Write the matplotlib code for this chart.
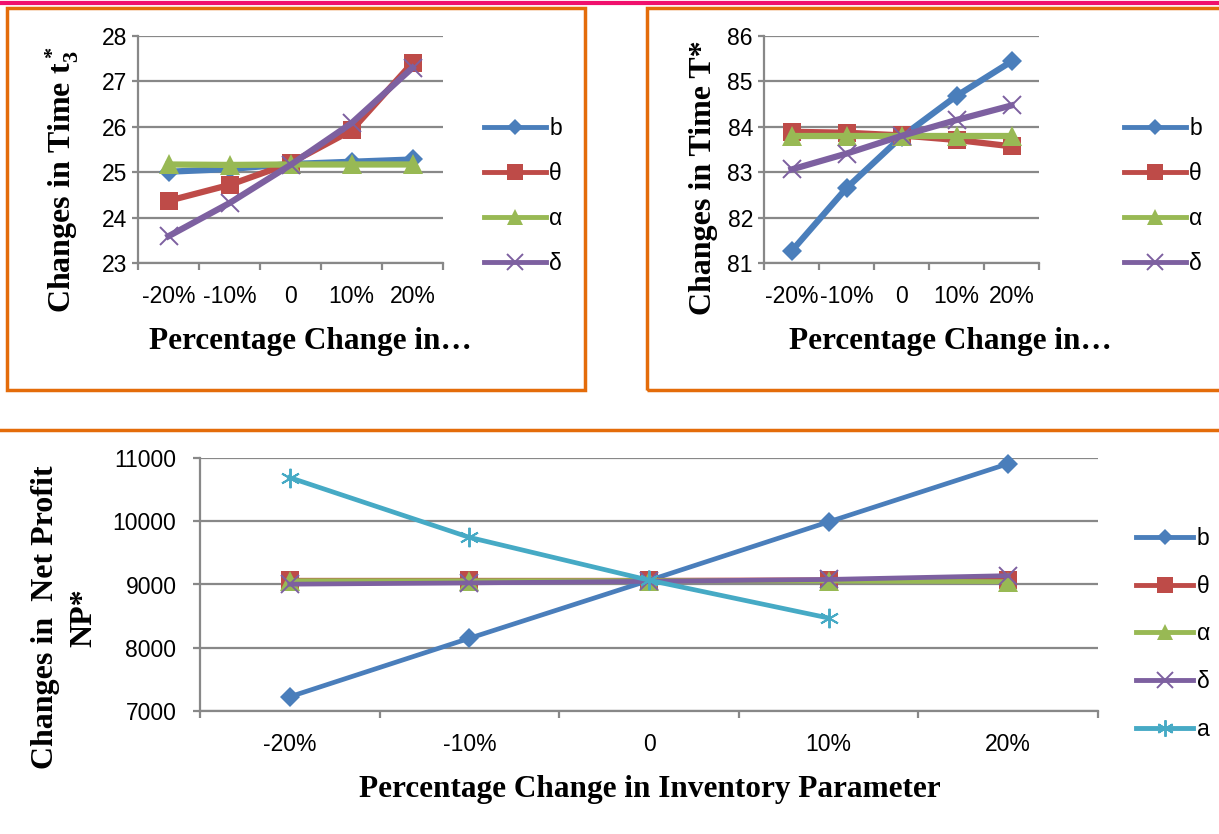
import numpy as np
import matplotlib
matplotlib.use("Agg")
import matplotlib.pyplot as plt
from matplotlib.patches import Rectangle
from matplotlib.lines import Line2D

plt.rcParams['mathtext.default'] = 'regular'

# ---- data ----
pct_labels = ['-20%', '-10%', '0', '10%', '20%']

t3_b = [25.01, 25.07, 25.18, 25.23, 25.28]
t3_theta = [24.37, 24.72, 25.2, 25.92, 27.41]
t3_alpha = [25.17, 25.16, 25.17, 25.17, 25.17]
t3_delta = [23.59, 24.32, 25.16, 26.08, 27.3]

T_b = [81.26, 82.65, 83.78, 84.68, 85.44]
T_theta = [83.89, 83.87, 83.81, 83.71, 83.57]
T_alpha = [83.8, 83.8, 83.8, 83.8, 83.8]
T_delta = [83.06, 83.41, 83.8, 84.15, 84.47]

np_b = [7225, 8150, 9065, 9990, 10910]
np_theta = [9068, 9068, 9068, 9075, 9070]
np_alpha = [9060, 9060, 9062, 9055, 9045]
np_delta = [9005, 9025, 9050, 9080, 9140]
np_a = [10690, 9745, 9068, 8470, np.nan]

series_names = ['b', 'θ', 'α', 'δ', 'a']
colors = ['#4A7EBB', '#BE4B48', '#98B954', '#7D60A0', '#46AAC5']

W, H = 1219, 834
fig = plt.figure(figsize=(W / 100, H / 100), dpi=100)


def box(x0, y0, x1, y1):
    return [x0 / W, 1 - y1 / H, (x1 - x0) / W, (y1 - y0) / H]


def fx(x):
    return x / W


def fy(y):
    return 1 - y / H


grid_c = '#888888'
serif = 'Liberation Serif'
sans = 'Liberation Sans'


def style_axes(ax, ylim, yticks, tick_size, xpad, ypad, ylen):
    ax.set_xlim(-0.5, 4.5)
    ax.set_ylim(*ylim)
    ax.set_yticks(yticks)
    ax.set_xticks(range(5))
    ax.set_xticklabels(pct_labels)
    ax.set_xticks(np.arange(-0.5, 5, 1), minor=True)
    ax.grid(axis='y', color=grid_c, lw=1.6, zorder=0)
    ax.set_axisbelow(True)
    for s in ['top', 'right']:
        ax.spines[s].set_visible(False)
    for s in ['left', 'bottom']:
        ax.spines[s].set_color(grid_c)
        ax.spines[s].set_linewidth(1.6)
    ax.tick_params(axis='x', which='major', length=0, pad=xpad)
    ax.tick_params(axis='x', which='minor', length=5, width=1.6, color=grid_c, direction='out')
    ax.tick_params(axis='y', length=ylen, width=1.6, color=grid_c, pad=ypad)
    for lab in ax.get_xticklabels() + ax.get_yticklabels():
        lab.set_family(sans)
        lab.set_fontsize(tick_size)


markers = ['D', 's', '^', 'x', (6, 2, 0)]
msizes = [10, 13.5, 14, 13, 14]


def draw(ax, data, lw, scale=1.0):
    handles = []
    for i, ys in enumerate(data):
        mk = markers[i]
        thin = mk == 'x' or isinstance(mk, tuple)
        h, = ax.plot(range(5), ys, color=colors[i], lw=lw, marker=mk,
                     ms=msizes[i] * scale, mew=1.4 if thin else 0,
                     mec=colors[i], mfc=colors[i], label=series_names[i],
                     zorder=3 + i, clip_on=False)
        handles.append(h)
    return handles


def legend(ax, handles, x, y, spacing, hlen):
    leg = ax.legend(handles=handles, loc='center left', bbox_to_anchor=(fx(x), fy(y)),
                    bbox_transform=fig.transFigure, frameon=False,
                    handlelength=hlen, handletextpad=0.15, labelspacing=spacing,
                    borderpad=0, borderaxespad=0, markerscale=0.85,
                    prop={'family': sans, 'size': 16.5})
    for ln in leg.get_lines():
        ln.set_linewidth(3.5)
    return leg


# top-left
ax1 = fig.add_axes(box(138, 36, 443, 263))
h1 = draw(ax1, [t3_b, t3_theta, t3_alpha, t3_delta], 4.5)
style_axes(ax1, (23, 28), range(23, 29), 16.5, 16, 4, 4)
legend(ax1, h1, 484, 196, 0.95, 2.7)

# top-right
ax2 = fig.add_axes(box(764, 36, 1039, 263))
h2 = draw(ax2, [T_b, T_theta, T_alpha, T_delta], 4.5)
style_axes(ax2, (81, 86), range(81, 87), 16.5, 16, 4, 4)
legend(ax2, h2, 1124, 196, 0.95, 2.7)

# bottom
ax3 = fig.add_axes(box(200, 458, 1098, 711))
h3 = draw(ax3, [np_b, np_theta, np_alpha, np_delta, np_a], 3.4)
style_axes(ax3, (7000, 11000), range(7000, 11001, 1000), 16.5, 16, 12, 5)
legend(ax3, h3, 1136, 634, 1.08, 2.5)

# axis titles
fig.text(fx(62), fy(180), 'Changes in Time t$_3^*$', rotation=90, ha='center', va='center',
         family=serif, weight='bold', fontsize=23)
fig.text(fx(310), fy(341), 'Percentage Change in…', ha='center', va='center',
         family=serif, weight='bold', fontsize=22.5)
fig.text(fx(703), fy(178), 'Changes in Time T*', rotation=90, ha='center', va='center',
         family=serif, weight='bold', fontsize=23)
fig.text(fx(950), fy(341), 'Percentage Change in…', ha='center', va='center',
         family=serif, weight='bold', fontsize=22.5)
fig.text(fx(650), fy(789), 'Percentage Change in Inventory Parameter', ha='center', va='center',
         family=serif, weight='bold', fontsize=22.5)
fig.text(fx(46), fy(617), 'Changes in  Net Profit', rotation=90, ha='center', va='center',
         family=serif, weight='bold', fontsize=23)
fig.text(fx(84), fy(618), 'NP*', rotation=90, ha='center', va='center',
         family=serif, weight='bold', fontsize=23)

# decorative frames
orange = '#E46C0A'
fig.patches.append(Rectangle((fx(7), fy(390)), fx(585) - fx(7), fy(8) - fy(390),
                             transform=fig.transFigure, fill=False, ec=orange, lw=2.5))
fig.patches.append(Rectangle((fx(647), fy(390)), fx(1230) - fx(647), fy(8) - fy(390),
                             transform=fig.transFigure, fill=False, ec=orange, lw=2.5))
fig.lines.append(Line2D([0, 1], [fy(430), fy(430)], transform=fig.transFigure, color=orange, lw=2.5))
fig.lines.append(Line2D([0, 1], [fy(3), fy(3)], transform=fig.transFigure, color='#F0106C', lw=3))

fig.savefig('out.png', dpi=100, facecolor='white')
